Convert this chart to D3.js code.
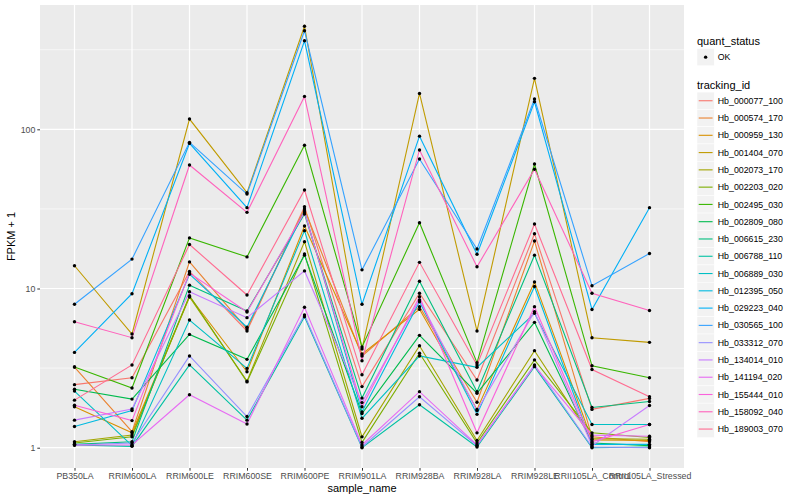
<!DOCTYPE html>
<html>
<head>
<meta charset="utf-8">
<script src="https://cdn.jsdelivr.net/npm/d3@7"></script>
<style>
  body { margin: 0; background: #fff; }
  text { font-family: "Liberation Sans", Arial, Helvetica, sans-serif; }
</style>
</head>
<body>
<script>
// samples on the x axis
var samples = ["PB350LA", "RRIM600LA", "RRIM600LE", "RRIM600SE", "RRIM600PE", "RRIM901LA",
               "RRIM928BA", "RRIM928LA", "RRIM928LE", "RRII105LA_Control", "RRII105LA_Stressed"];

var trackingIds = ["Hb_000077_100", "Hb_000574_170", "Hb_000959_130", "Hb_001404_070", "Hb_002073_170",
                   "Hb_002203_020", "Hb_002495_030", "Hb_002809_080", "Hb_006615_230", "Hb_006788_110",
                   "Hb_006889_030", "Hb_012395_050", "Hb_029223_040", "Hb_030565_100", "Hb_033312_070",
                   "Hb_134014_010", "Hb_141194_020", "Hb_155444_010", "Hb_158092_040", "Hb_189003_070"];

// ggplot hue palette, 20 levels
var idColors = ["#F8766D", "#EA8331", "#D89000", "#C09B00", "#A3A500", "#7CAE00", "#39B600", "#00BB4E",
                "#00BF7D", "#00C1A3", "#00BFC4", "#00BAE0", "#00B0F6", "#35A2FF", "#9590FF", "#C77CFF",
                "#E76BF3", "#FA62DB", "#FF62BC", "#FF6C91"];

// FPKM + 1, one row per tracking id, one column per sample
var fpkmPlusOne = [
  [2.49, 2.75, 12.8, 5.41, 32.6, 2.42, 9.33, 2.66, 22.1, 1.74, 2.04],
  [3.21, 1.26, 14.7, 5.57, 31.6, 3.77, 7.69, 1.93, 19.9, 1.17, 1.09],
  [1.81, 1.24, 8.91, 3.00, 24.7, 3.88, 7.40, 1.74, 11.0, 1.12, 1.11],
  [13.9, 5.18, 116, 40.0, 444, 4.17, 168, 5.41, 209, 4.91, 4.59],
  [1.09, 1.20, 8.84, 2.62, 19.7, 1.17, 4.37, 1.11, 4.07, 1.14, 1.13],
  [1.07, 1.17, 9.01, 2.59, 16.5, 1.08, 3.92, 1.07, 3.56, 1.24, 1.16],
  [3.21, 2.37, 20.8, 15.8, 79.4, 4.29, 25.9, 3.42, 60.5, 3.27, 2.75],
  [2.33, 2.02, 5.15, 3.59, 16.2, 1.64, 5.08, 2.20, 6.13, 1.07, 1.03],
  [1.05, 1.09, 10.5, 7.22, 29.4, 2.05, 11.1, 2.25, 16.2, 1.79, 1.95],
  [1.04, 1.02, 3.31, 1.49, 6.65, 1.00, 1.86, 1.01, 3.23, 1.00, 1.01],
  [2.27, 1.03, 6.34, 3.15, 23.1, 1.53, 3.77, 3.20, 6.98, 1.40, 1.40],
  [1.36, 1.71, 12.3, 5.71, 30.7, 1.68, 8.26, 1.62, 10.3, 1.05, 1.05],
  [3.97, 9.27, 81.6, 32.2, 360, 7.96, 90.6, 16.4, 149, 7.38, 32.2],
  [7.96, 15.3, 82.8, 39.2, 416, 13.1, 65.1, 17.7, 155, 10.4, 16.6],
  [1.04, 1.07, 3.77, 1.57, 6.82, 1.01, 2.09, 1.03, 3.31, 1.01, 1.00],
  [1.49, 1.75, 9.55, 6.56, 12.9, 1.92, 8.47, 1.71, 7.15, 1.03, 1.84],
  [1.04, 1.04, 2.15, 1.41, 7.62, 1.04, 2.25, 1.04, 3.27, 1.20, 1.18],
  [1.85, 1.48, 12.5, 7.12, 30.2, 1.81, 8.88, 1.24, 7.69, 1.09, 1.40],
  [6.19, 4.91, 59.7, 30.1, 161, 3.52, 74.2, 13.7, 56.1, 9.33, 7.28],
  [1.99, 3.31, 18.9, 9.10, 41.6, 2.87, 14.6, 3.31, 25.4, 3.10, 2.09]
];

var yTicks = [1, 10, 100];
var yMinor = [Math.pow(10, 0.5), Math.pow(10, 1.5), Math.pow(10, 2.5)];
var quantStatus = ["OK"];

var W = 800, H = 500;
var panel = {left: 40, right: 684, top: 5, bottom: 468};

var svg = d3.select("body").append("svg")
  .attr("width", W)
  .attr("height", H);

var x = d3.scalePoint()
  .domain(samples)
  .range([panel.left, panel.right])
  .padding(0.6);

var y = d3.scaleLog()
  .domain([Math.pow(10, -0.1275), Math.pow(10, 2.781)])
  .range([panel.bottom, panel.top]);

// panel background + grid
svg.append("rect")
  .attr("x", panel.left).attr("y", panel.top)
  .attr("width", panel.right - panel.left)
  .attr("height", panel.bottom - panel.top)
  .attr("fill", "#EBEBEB");

svg.selectAll(".minor").data(yMinor).enter().append("line")
  .attr("x1", panel.left).attr("x2", panel.right)
  .attr("y1", function(d) { return y(d); }).attr("y2", function(d) { return y(d); })
  .attr("stroke", "#fff").attr("stroke-width", 0.6);

svg.selectAll(".hmajor").data(yTicks).enter().append("line")
  .attr("x1", panel.left).attr("x2", panel.right)
  .attr("y1", function(d) { return y(d); }).attr("y2", function(d) { return y(d); })
  .attr("stroke", "#fff").attr("stroke-width", 1.2);

svg.selectAll(".vmajor").data(samples).enter().append("line")
  .attr("y1", panel.top).attr("y2", panel.bottom)
  .attr("x1", function(d) { return x(d); }).attr("x2", function(d) { return x(d); })
  .attr("stroke", "#fff").attr("stroke-width", 1.2);

// lines
var line = d3.line()
  .x(function(d, i) { return x(samples[i]); })
  .y(function(d) { return y(d); });

svg.selectAll(".series").data(fpkmPlusOne).enter().append("path")
  .attr("d", line)
  .attr("fill", "none")
  .attr("stroke", function(d, i) { return idColors[i]; })
  .attr("stroke-width", 1.1);

// points on top
fpkmPlusOne.forEach(function(row) {
  svg.selectAll(null).data(row).enter().append("circle")
    .attr("cx", function(d, i) { return x(samples[i]); })
    .attr("cy", function(d) { return y(d); })
    .attr("r", 1.7)
    .attr("fill", "#000");
});

// axes
var yAxis = svg.append("g")
  .attr("transform", "translate(" + panel.left + ",0)")
  .call(d3.axisLeft(y).tickValues(yTicks).tickFormat(d3.format("d")).tickSize(2.7).tickPadding(2));
var xAxis = svg.append("g")
  .attr("transform", "translate(0," + panel.bottom + ")")
  .call(d3.axisBottom(x).tickSize(2.7).tickPadding(2.5));

[xAxis, yAxis].forEach(function(g) {
  g.select(".domain").remove();
  g.selectAll(".tick line").attr("stroke", "#333").attr("stroke-width", 1);
  g.selectAll(".tick text")
    .attr("fill", "#4D4D4D")
    .style("font-size", "8.8px")
    .style("font-family", "'Liberation Sans', Arial, sans-serif");
});

svg.append("text")
  .attr("x", (panel.left + panel.right) / 2)
  .attr("y", 492)
  .attr("text-anchor", "middle")
  .style("font-size", "11px")
  .text("sample_name");

svg.append("text")
  .attr("transform", "translate(15," + ((panel.top + panel.bottom) / 2) + ") rotate(-90)")
  .attr("text-anchor", "middle")
  .style("font-size", "11px")
  .text("FPKM + 1");

// legends
var lx = 697, keyH = 17.28, keyW = 17.28;

svg.append("text").attr("x", lx).attr("y", 45)
  .style("font-size", "11px").text("quant_status");

var qKey = svg.selectAll(".qkey").data(quantStatus).enter().append("g")
  .attr("transform", function(d, i) { return "translate(" + lx + "," + (48.5 + i * keyH) + ")"; });
qKey.append("rect").attr("width", keyW).attr("height", keyH)
  .attr("fill", "#F2F2F2").attr("stroke", "#fff").attr("stroke-width", 0.5);
qKey.append("circle").attr("cx", keyW / 2).attr("cy", keyH / 2).attr("r", 1.7).attr("fill", "#000");
qKey.append("text").attr("x", keyW + 3.5).attr("y", keyH / 2 + 3.1)
  .style("font-size", "8.8px").text(function(d) { return d; });

svg.append("text").attr("x", lx).attr("y", 88.5)
  .style("font-size", "11px").text("tracking_id");

var tKey = svg.selectAll(".tkey").data(trackingIds).enter().append("g")
  .attr("transform", function(d, i) { return "translate(" + lx + "," + (92.1 + i * keyH) + ")"; });
tKey.append("rect").attr("width", keyW).attr("height", keyH)
  .attr("fill", "#F2F2F2").attr("stroke", "#fff").attr("stroke-width", 0.5);
tKey.append("line")
  .attr("x1", 1.7).attr("x2", keyW - 1.7)
  .attr("y1", keyH / 2).attr("y2", keyH / 2)
  .attr("stroke", function(d, i) { return idColors[i]; })
  .attr("stroke-width", 1.1);
tKey.append("text").attr("x", keyW + 3.5).attr("y", keyH / 2 + 3.1)
  .style("font-size", "8.8px").text(function(d) { return d; });
</script>
</body>
</html>
